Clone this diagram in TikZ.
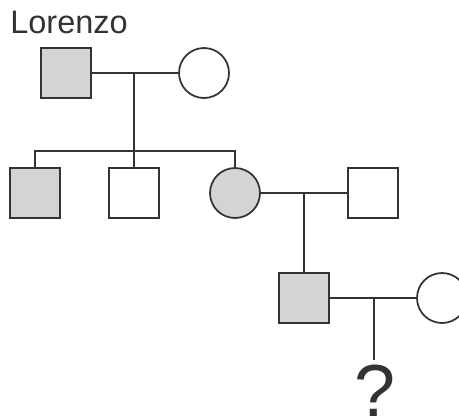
\documentclass[tikz,border=0pt]{standalone}
\usepackage{fontspec}
\setmainfont{Liberation Sans}
\definecolor{inkgray}{RGB}{51,51,51}
\definecolor{affgray}{RGB}{211,212,214}

\begin{document}
\begin{tikzpicture}[
        x=0.02cm, y=-0.02cm,
        male/.style={draw=inkgray, line width=1pt, minimum size=1cm, inner sep=0pt},
        female/.style={male, circle},
        affected/.style={fill=affgray},
        link/.style={draw=inkgray, line width=0.8pt}
        ]
        \useasboundingbox (0,0) rectangle (459,419);

        % first generation
        \node[male, affected] (lorenzo) at (66, 73) {};
        \node[female] (wife) at (204, 73) {};
        \node[anchor=base west, inner sep=0pt, text=inkgray, font=\fontsize{18.5}{21}\selectfont] (name) at (10, 33) {Lorenzo};
        \coordinate (m1) at (134, 73);
        \coordinate (sib) at (134, 151);
        \draw[link] (lorenzo) -- (wife);
        \draw[link] (m1) -- (sib);

        % second generation
        \node[male, affected] (son1) at (35, 193) {};
        \node[male] (son2) at (134, 193) {};
        \node[female, affected] (dau) at (235, 193) {};
        \node[male] (husb) at (373, 193) {};
        \draw[link] (son1.north) |- (sib) -| (dau.north);
        \draw[link] (son2.north) -- (sib);
        \coordinate (m2) at (304, 193);
        \draw[link] (dau) -- (husb);

        % third generation
        \node[male, affected] (grandson) at (304, 298) {};
        \node[female] (partner) at (442, 298) {};
        \draw[link] (m2) -- (grandson.north);
        \draw[link] (grandson) -- (partner);
        \coordinate (m3) at (374, 298);
        \coordinate (m3end) at (374, 360);
        \draw[link] (m3) -- (m3end);
        \node[anchor=base, inner sep=0pt, text=inkgray, font=\fontsize{42}{44}\selectfont] (unknown) at (375, 416) {?};
    \end{tikzpicture}
\end{document}
